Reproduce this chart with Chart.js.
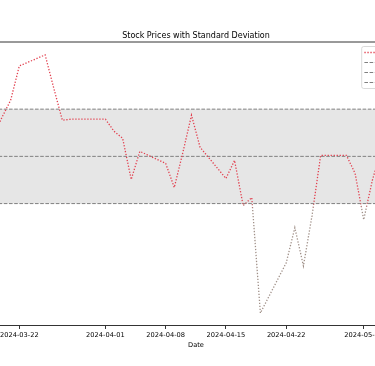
<!DOCTYPE html>
<html>
<head>
<meta charset="utf-8">
<title>Stock Prices with Standard Deviation</title>
<script src="https://cdn.jsdelivr.net/npm/chart.js@4.4.1/dist/chart.umd.min.js"></script>
<style>
    html, body { margin: 0; padding: 0; overflow: hidden; background: #fff; }
    body { width: 375px; height: 366px; position: relative; }
    /* the reference is a crop of a wider figure, so the canvas overhangs on both sides */
    #wrap { position: absolute; left: -43px; top: 0; width: 478px; height: 366px; }
</style>
</head>
<body>
<div id="wrap"><canvas id="stockChart"></canvas></div>
<script>
'use strict';

var dates = [
    '2024-03-19', '2024-03-20', '2024-03-21', '2024-03-22', '2024-03-25',
    '2024-03-26', '2024-03-27', '2024-03-28', '2024-03-29', '2024-04-01',
    '2024-04-02', '2024-04-03', '2024-04-04', '2024-04-05', '2024-04-08',
    '2024-04-09', '2024-04-10', '2024-04-11', '2024-04-12', '2024-04-15',
    '2024-04-16', '2024-04-17', '2024-04-18', '2024-04-19', '2024-04-22',
    '2024-04-23', '2024-04-24', '2024-04-25', '2024-04-26', '2024-04-29',
    '2024-04-30', '2024-05-01', '2024-05-02', '2024-05-03'
];
var prices = [
    177.0, 178.8, 180.5, 183.9, 185.0,
    181.7, 178.5, 178.6, 178.6, 178.6,
    177.4, 176.7, 172.6, 175.4, 174.2,
    171.8, 175.3, 179.0, 175.8, 172.7,
    174.5, 170.0, 170.8, 159.3, 164.3,
    167.8, 164.0, 169.0, 175.0, 175.0,
    173.2, 168.6, 172.5, 175.5
];
var meanPrice = 174.9;
var stdPrice = 4.7;
var tickLabels = ['2024-03-22', '2024-04-01', '2024-04-08', '2024-04-15', '2024-04-22', '2024-05-01'];
var seriesLabels = ['Stock Price', 'Mean', 'Mean + 1 Std', 'Mean - 1 Std'];

// visible date window, in days from 2024-03-22
var xStartDay = -7.236;
var xEndDay = 48.28;

var baseDate = Date.parse('2024-03-22');
var lineRed = '#e2404f';
var lineGray = '#a09088';
var bandGray = '#808080';

function dayOf(s) {
    return (Date.parse(s) - baseDate) / 86400000;
}

function dateOf(d) {
    return new Date(baseDate + Math.round(d) * 86400000).toISOString().slice(0, 10);
}

var pricePoints = dates.map(function (d, i) {
    return { x: dayOf(d), y: prices[i] };
});

function flatLine(v) {
    return [{ x: xStartDay, y: v }, { x: xEndDay, y: v }];
}

var yLow = Math.min.apply(null, prices);
var yHigh = Math.max.apply(null, prices);
var yPad = (yHigh - yLow) * 0.05;

// red above the lower band, greyish below it
function priceColor(context) {
    var chart = context.chart;
    var area = chart.chartArea;
    if (!area || !chart.scales.y) {
        return lineRed;
    }
    var cut = chart.scales.y.getPixelForValue(meanPrice - stdPrice);
    var h = area.bottom - area.top;
    var t0 = Math.max(0, Math.min(1, (cut - 4 - area.top) / h));
    var t1 = Math.max(0, Math.min(1, (cut + 6 - area.top) / h));
    var g = chart.ctx.createLinearGradient(0, area.top, 0, area.bottom);
    g.addColorStop(0, lineRed);
    g.addColorStop(t0, lineRed);
    g.addColorStop(t1, lineGray);
    g.addColorStop(1, lineGray);
    return g;
}

var frameAndLegend = {
    id: 'frameAndLegend',
    afterDraw: function (chart) {
        var ctx = chart.ctx;
        var area = chart.chartArea;
        ctx.save();
        ctx.strokeStyle = '#000';
        ctx.lineWidth = 0.8;
        ctx.beginPath();
        ctx.moveTo(area.left, area.top);
        ctx.lineTo(area.right, area.top);
        ctx.stroke();

        // legend box, upper right inside the axes
        var w = 70, h = 42;
        var bx = area.right - 3.3 - w;
        var by = area.top + 4.5;
        ctx.fillStyle = 'rgba(255,255,255,0.8)';
        ctx.strokeStyle = '#d0d0d0';
        ctx.lineWidth = 0.8;
        ctx.beginPath();
        ctx.roundRect(bx, by, w, h, 2);
        ctx.fill();
        ctx.stroke();

        ctx.font = '6.67px "DejaVu Sans"';
        ctx.textBaseline = 'middle';
        ctx.fillStyle = '#000';
        chart.data.datasets.forEach(function (ds, i) {
            var ly = by + 6 + i * 10;
            ctx.strokeStyle = i === 0 ? lineRed : ds.borderColor;
            ctx.lineWidth = ds.borderWidth;
            ctx.setLineDash(ds.borderDash);
            ctx.beginPath();
            ctx.moveTo(bx + 2.7, ly);
            ctx.lineTo(bx + 16, ly);
            ctx.stroke();
            ctx.setLineDash([]);
            ctx.fillText(ds.label, bx + 21.3, ly);
        });
        ctx.restore();
    }
};

var stockConfig = {
    type: 'line',
    data: {
        datasets: [{
            label: seriesLabels[0],
            data: pricePoints,
            borderColor: priceColor,
            borderWidth: 1.3,
            borderDash: [1.3, 1.7],
            pointRadius: 0,
            tension: 0,
            fill: false
        }, {
            label: seriesLabels[2],
            data: flatLine(meanPrice + stdPrice),
            borderColor: bandGray,
            borderWidth: 1,
            borderDash: [3.6, 1.6],
            pointRadius: 0,
            backgroundColor: '#e6e6e6',
            fill: '+2'
        }, {
            label: seriesLabels[1],
            data: flatLine(meanPrice),
            borderColor: bandGray,
            borderWidth: 1,
            borderDash: [3.6, 1.6],
            pointRadius: 0,
            fill: false
        }, {
            label: seriesLabels[3],
            data: flatLine(meanPrice - stdPrice),
            borderColor: bandGray,
            borderWidth: 1,
            borderDash: [3.6, 1.6],
            pointRadius: 0,
            fill: false
        }]
    },
    options: {
        responsive: true,
        maintainAspectRatio: false,
        animation: false,
        layout: {
            padding: { top: 0, bottom: 16.3, left: 0, right: 0 }
        },
        plugins: {
            legend: { display: false },
            tooltip: { enabled: false },
            filler: { drawTime: 'beforeDatasetsDraw' },
            title: {
                display: true,
                text: 'Stock Prices with Standard Deviation',
                color: '#000',
                font: { family: 'DejaVu Sans', size: 8, weight: 'normal' },
                padding: { top: 30.9, bottom: 1.5 }
            }
        },
        scales: {
            x: {
                type: 'linear',
                min: xStartDay,
                max: xEndDay,
                afterBuildTicks: function (scale) {
                    scale.ticks = tickLabels.map(function (t) {
                        return { value: dayOf(t) };
                    });
                },
                ticks: {
                    autoSkip: false,
                    maxRotation: 0,
                    padding: 2,
                    color: '#000',
                    font: { family: 'DejaVu Sans', size: 6.67 },
                    callback: function (value) {
                        return dateOf(value);
                    }
                },
                grid: {
                    drawOnChartArea: false,
                    drawTicks: true,
                    tickLength: 3,
                    tickColor: '#000',
                    tickWidth: 0.8
                },
                border: { display: true, color: '#000', width: 0.8 },
                title: {
                    display: true,
                    text: 'Date',
                    color: '#000',
                    font: { family: 'DejaVu Sans', size: 6.67 },
                    padding: { top: 0.7, bottom: 0 }
                }
            },
            y: {
                display: false,
                min: yLow - yPad,
                max: yHigh + yPad
            }
        }
    },
    plugins: [frameAndLegend]
};

window.onload = function () {
    var ctx = document.getElementById('stockChart').getContext('2d');
    window.stockChart = new Chart(ctx, stockConfig);
};
</script>
</body>
</html>
